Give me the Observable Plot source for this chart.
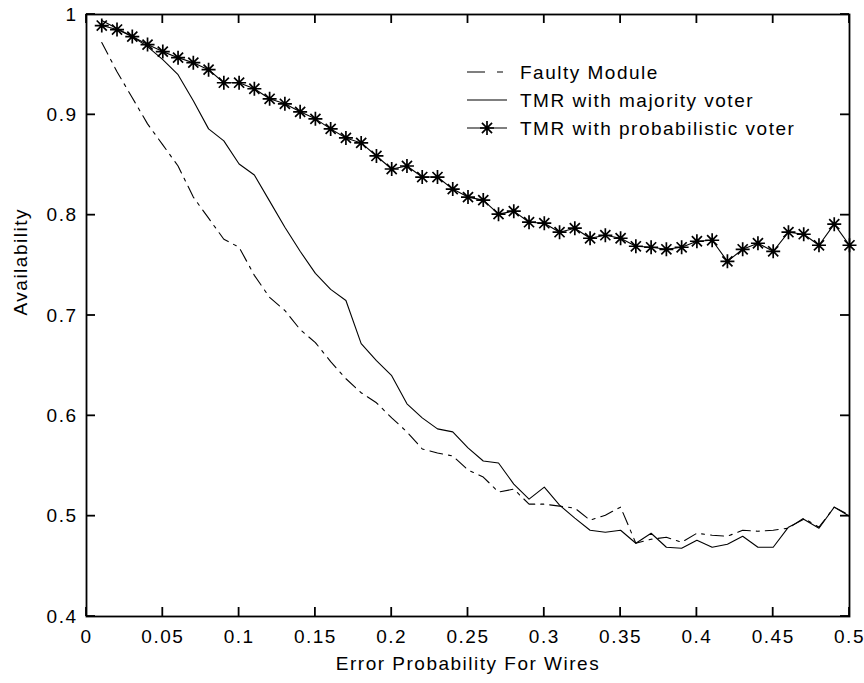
<!DOCTYPE html>
<html>
<head>
<meta charset="utf-8">
<script src="https://cdn.jsdelivr.net/npm/d3@7"></script>
<script src="https://cdn.jsdelivr.net/npm/@observablehq/plot@0.6"></script>
<style>
  html, body { margin: 0; padding: 0; background: #fff; }
  #chart { position: relative; width: 864px; height: 683px; }
</style>
</head>
<body>
<div id="chart"></div>
<script>
// ---- data ----
const errorProb = [0.01,0.02,0.03,0.04,0.05,0.06,0.07,0.08,0.09,0.10,
  0.11,0.12,0.13,0.14,0.15,0.16,0.17,0.18,0.19,0.20,
  0.21,0.22,0.23,0.24,0.25,0.26,0.27,0.28,0.29,0.30,
  0.31,0.32,0.33,0.34,0.35,0.36,0.37,0.38,0.39,0.40,
  0.41,0.42,0.43,0.44,0.45,0.46,0.47,0.48,0.49,0.50];

const faultyModule = [0.972,0.943,0.917,0.891,0.870,0.849,0.818,0.797,0.776,0.768,
  0.740,0.718,0.705,0.686,0.673,0.654,0.637,0.623,0.613,0.598,
  0.584,0.567,0.563,0.560,0.546,0.539,0.524,0.527,0.512,0.512,
  0.510,0.508,0.496,0.501,0.509,0.473,0.477,0.479,0.474,0.483,
  0.481,0.480,0.486,0.485,0.486,0.488,0.498,0.489,0.509,0.501];

const tmrMajority = [0.994,0.986,0.978,0.968,0.955,0.940,0.914,0.886,0.874,0.851,
  0.840,0.814,0.788,0.764,0.742,0.726,0.715,0.672,0.655,0.640,
  0.612,0.598,0.587,0.584,0.568,0.555,0.553,0.532,0.517,0.529,
  0.511,0.498,0.486,0.484,0.486,0.473,0.483,0.469,0.468,0.476,
  0.469,0.472,0.480,0.469,0.469,0.489,0.497,0.488,0.509,0.500];

const tmrProbabilistic = [0.989,0.985,0.978,0.970,0.963,0.957,0.952,0.945,0.932,0.932,
  0.926,0.916,0.911,0.903,0.896,0.886,0.877,0.872,0.859,0.846,
  0.849,0.838,0.838,0.826,0.818,0.815,0.801,0.804,0.793,0.792,
  0.783,0.787,0.777,0.780,0.777,0.769,0.768,0.766,0.768,0.774,
  0.775,0.754,0.766,0.772,0.764,0.783,0.781,0.770,0.791,0.770];

const seriesNames = ["Faulty Module", "TMR with majority voter", "TMR with probabilistic voter"];
const xTicks = [0,0.05,0.1,0.15,0.2,0.25,0.3,0.35,0.4,0.45,0.5];
const xTickLabels = ["0","0.05","0.1","0.15","0.2","0.25","0.3","0.35","0.4","0.45","0.5"];
const yTicks = [0.4,0.5,0.6,0.7,0.8,0.9,1];
const yTickLabels = ["0.4","0.5","0.6","0.7","0.8","0.9","1"];
const xLabel = "Error Probability For Wires";
const yLabel = "Availability";

// ---- build tables ----
const faulty = errorProb.map((x, i) => ({x, y: faultyModule[i]}));
const majority = errorProb.map((x, i) => ({x, y: tmrMajority[i]}));
const prob = errorProb.map((x, i) => ({x, y: tmrProbabilistic[i]}));
const X0 = 0, X1 = 0.5, Y0 = 0.4, Y1 = 1;

// MATLAB-style '*' marker
const starSymbol = {
  draw(ctx, size) {
    const r = Math.sqrt(size / Math.PI);
    const d = r * 0.72;
    ctx.moveTo(-r, 0); ctx.lineTo(r, 0);
    ctx.moveTo(0, -r); ctx.lineTo(0, r);
    ctx.moveTo(-d, -d); ctx.lineTo(d, d);
    ctx.moveTo(-d, d); ctx.lineTo(d, -d);
  }
};

const W = 864, H = 683;
const ML = 86, MR = 15, MT = 14, MB = 67;
const TICK = 9;
const STAR_R = 7;

const FONT = "'Liberation Sans', Arial, Helvetica, sans-serif";
const xFmt = d => xTickLabels[xTicks.findIndex(t => Math.abs(t - d) < 1e-9)];
const yFmt = d => yTickLabels[yTicks.findIndex(t => Math.abs(t - d) < 1e-9)];
const DASHDOT = "13,6,3,6";

const plot = Plot.plot({
  width: W,
  height: H,
  marginLeft: ML,
  marginRight: MR,
  marginTop: MT,
  marginBottom: MB,
  style: {fontFamily: FONT, fontSize: "19px", letterSpacing: "1.5px", color: "#000", background: "#fff", overflow: "visible"},
  x: {domain: [X0, X1]},
  y: {domain: [Y0, Y1]},
  marks: [
    Plot.line(faulty, {x: "x", y: "y", stroke: "#000", strokeWidth: 1.1, strokeDasharray: DASHDOT}),
    Plot.line(majority, {x: "x", y: "y", stroke: "#000", strokeWidth: 1.1}),
    Plot.line(prob, {x: "x", y: "y", stroke: "#000", strokeWidth: 1.1}),
    Plot.dot(prob, {x: "x", y: "y", symbol: starSymbol, r: STAR_R, stroke: "#000", fill: "none", strokeWidth: 1.7}),
    Plot.frame({stroke: "#000", strokeWidth: 1.8}),
    Plot.axisX({anchor: "bottom", ticks: xTicks, tickFormat: xFmt, tickSize: 0, tickPadding: 13, label: null, fill: "#000"}),
    Plot.axisY({anchor: "left", ticks: yTicks, tickFormat: yFmt, tickSize: 0, tickPadding: 9, label: null, fill: "#000"}),
    Plot.text([xLabel], {text: d => d, frameAnchor: "bottom", dy: 47, lineAnchor: "middle", fill: "#000"}),
    Plot.text([yLabel], {text: d => d, frameAnchor: "left", rotate: -90, dx: -66, fill: "#000"})
  ]
});

document.getElementById("chart").appendChild(plot);

const svg = d3.select(plot);
const sx = plot.scale("x"), sy = plot.scale("y");
const px = v => sx.apply(v), py = v => sy.apply(v);

// ---- inward ticks on all four sides, placed through Plot's own scales ----
const tg = svg.append("g").attr("stroke", "#000").attr("stroke-width", 1.8);
xTicks.forEach(t => {
  const x = px(t);
  tg.append("line").attr("x1", x).attr("x2", x).attr("y1", py(Y0)).attr("y2", py(Y0) - TICK);
  tg.append("line").attr("x1", x).attr("x2", x).attr("y1", py(Y1)).attr("y2", py(Y1) + TICK);
});
yTicks.forEach(t => {
  const y = py(t);
  tg.append("line").attr("y1", y).attr("y2", y).attr("x1", px(X0)).attr("x2", px(X0) + TICK);
  tg.append("line").attr("y1", y).attr("y2", y).attr("x1", px(X1)).attr("x2", px(X1) - TICK);
});

// ---- legend (inside the axes, no box) ----
const lg = svg.append("g").attr("font-family", FONT).attr("font-size", 19).attr("fill", "#000")
  .attr("text-anchor", "start");
const rows = [72, 100, 128];
seriesNames.forEach((name, i) => {
  const y = rows[i];
  const line = lg.append("line").attr("x1", 467).attr("x2", 507).attr("y1", y).attr("y2", y)
    .attr("stroke", "#000").attr("stroke-width", 1.1);
  if (i === 0) line.attr("stroke-dasharray", "18,12,6,20");
  if (i === 2) {
    lg.append("path").attr("transform", `translate(487,${y})`)
      .attr("d", d3.symbol(starSymbol, Math.PI * STAR_R * STAR_R)())
      .attr("fill", "none").attr("stroke", "#000").attr("stroke-width", 1.7);
  }
  lg.append("text").attr("x", 520).attr("y", y).attr("dy", "0.35em")
    .attr("text-anchor", "start")
    .style("letter-spacing", "1.5px").text(name);
});
</script>
</body>
</html>
